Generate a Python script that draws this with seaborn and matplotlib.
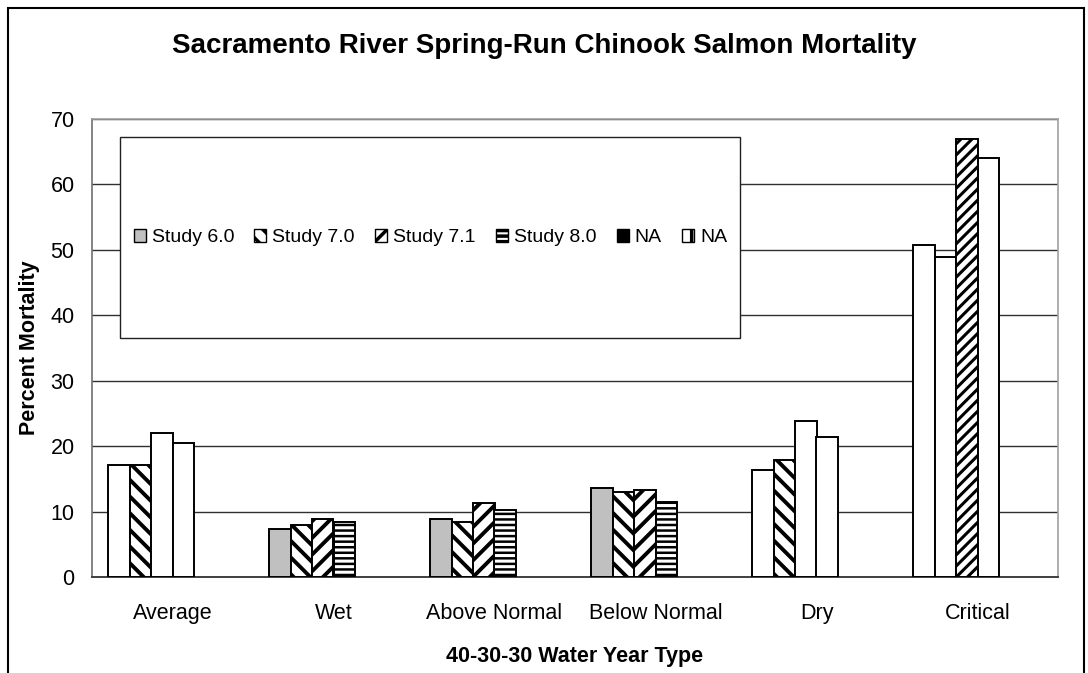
import numpy as np
import pandas as pd
import matplotlib
matplotlib.use("Agg")
import matplotlib.pyplot as plt
from matplotlib.patches import Rectangle, Patch
import seaborn as sns

# Mortality (%) by 40-30-30 water year type for each study
water_years = ["Average", "Wet", "Above Normal", "Below Normal", "Dry", "Critical"]
series = ["Study 6.0", "Study 7.0", "Study 7.1", "Study 8.0", "NA", "NA "]
study_6_0 = [17.1, 7.4, 8.9, 13.55, 16.35, 50.7]
study_7_0 = [17.1, 7.9, 8.4, 13.0, 17.9, 48.95]
study_7_1 = [22.05, 8.9, 11.3, 13.3, 23.85, 66.9]
study_8_0 = [20.5, 8.4, 10.2, 11.5, 21.45, 64.1]
na_a = [np.nan] * 6
na_b = [np.nan] * 6
y_ticks = [0, 10, 20, 30, 40, 50, 60, 70]

values = [study_6_0, study_7_0, study_7_1, study_8_0, na_a, na_b]
df = pd.DataFrame(
    [(wy, s, v[i]) for s, v in zip(series, values) for i, wy in enumerate(water_years)],
    columns=["Water Year", "Study", "Mortality"],
).dropna()

# fill / hatch / hatch width for each series, plus per-group exceptions
fills = ["#c0c0c0", "white", "white", "white", "black", "white"]
hatches = [None, "\\\\", "//", "---", None, "|"]
hatch_widths = [1.0, 2.8, 2.8, 1.8, 1.0, 2.0]
exceptions = {
    ("Average", 0): ("white", None, 1.0), ("Average", 1): ("white", "\\\\", 2.8),
    ("Average", 2): ("white", None, 1.0), ("Average", 3): ("white", None, 1.0),
    ("Dry", 0): ("white", None, 1.0), ("Dry", 1): ("white", "\\\\", 2.8),
    ("Dry", 2): ("white", None, 1.0), ("Dry", 3): ("white", None, 1.0),
    ("Critical", 0): ("white", None, 1.0), ("Critical", 1): ("white", None, 1.0),
    ("Critical", 2): ("white", "///", 2.2), ("Critical", 3): ("white", None, 1.0),
}

sns.set_style("white")
plt.rcParams["font.family"] = ["Liberation Sans", "DejaVu Sans"]
plt.rcParams["text.color"] = "black"
plt.rcParams["axes.labelcolor"] = "black"
plt.rcParams["xtick.color"] = "black"
plt.rcParams["ytick.color"] = "black"
plt.rcParams["hatch.linewidth"] = 2.5
plt.rcParams["hatch.color"] = "black"


def set_hatch_width(patch, w):
    if hasattr(patch, "set_hatch_linewidth"):
        patch.set_hatch_linewidth(w)


fig = plt.figure(figsize=(10.88, 6.73), dpi=100)
ax = fig.add_axes([92 / 1088, 96 / 673, 966 / 1088, 458 / 673])

sns.barplot(
    data=df, x="Water Year", y="Mortality", hue="Study",
    order=water_years, hue_order=series,
    palette={s: "white" for s in series}, saturation=1,
    edgecolor="black", linewidth=1.4, errorbar=None, legend=False,
    width=0.8, dodge=True, ax=ax, zorder=3,
)

n = len(series)
bw = 0.8 / n
for p in ax.patches:
    cx = p.get_x() + p.get_width() / 2
    gi = int(round(cx))
    si = int(round((cx - gi + 0.4) / bw - 0.5))
    fc, h, hw = exceptions.get((water_years[gi], si), (fills[si], hatches[si], hatch_widths[si]))
    p.set_facecolor(fc)
    p.set_hatch(h)
    set_hatch_width(p, hw)
    p.set_edgecolor("black")
    p.set_zorder(3)

ax.set_ylim(0, 70)
ax.set_xlim(-0.5, len(water_years) - 0.5)
ax.set_yticks(y_ticks)
ax.yaxis.grid(True, color="#303030", linewidth=1.0, zorder=0)
ax.set_axisbelow(True)
ax.set_xticks(range(len(water_years)))
ax.set_xticklabels(water_years)
ax.set_xticks(np.arange(-0.5, len(water_years)), minor=True)
ax.tick_params(axis="x", which="major", length=0, pad=18.5, labelsize=15.5, labelcolor="black")
ax.tick_params(axis="x", which="minor", length=5, width=1, color="#606060", direction="out")
ax.tick_params(axis="y", which="major", length=4.5, width=1, color="#606060", direction="out",
               labelsize=15.5, pad=8, labelcolor="black")

for side in ["top", "right"]:
    ax.spines[side].set_visible(True)
    ax.spines[side].set_color("#a0a0a0")
    ax.spines[side].set_linewidth(1.2)
ax.spines["left"].set_color("#707070")
ax.spines["left"].set_linewidth(1.2)
ax.spines["bottom"].set_color("#404040")
ax.spines["bottom"].set_linewidth(1.4)

ax.set_xlabel("40-30-30 Water Year Type", fontsize=15.5, fontweight="bold", labelpad=16)
ax.set_ylabel("Percent Mortality", fontsize=15.5, fontweight="bold", labelpad=7.5)
fig.text(0.5, 1 - 46 / 673, "Sacramento River Spring-Run Chinook Salmon Mortality",
         ha="center", va="center", fontsize=20, fontweight="bold")

# legend box
x0, x1 = (120 - 92) / 966, (740 - 92) / 966
y0, y1 = (577 - 338) / 458, (577 - 137) / 458
ax.add_patch(Rectangle((x0, y0), x1 - x0, y1 - y0, transform=ax.transAxes,
                       facecolor="white", edgecolor="#202020", linewidth=1.0, zorder=5))
handles = []
for i in range(n):
    hp = Patch(facecolor=fills[i], edgecolor="black", hatch=hatches[i], linewidth=1.0)
    set_hatch_width(hp, 1.5)
    handles.append(hp)
leg = ax.legend(handles, [s.strip() for s in series], ncol=n, frameon=False,
                loc="center left", bbox_to_anchor=(x0 - 0.004, (y0 + y1) / 2),
                fontsize=14, handlelength=0.62, handleheight=0.62,
                handletextpad=0.3, columnspacing=1.05)
leg.set_zorder(6)

# outer chart border
fig.patches.append(Rectangle((8 / 1088, -0.05), (1084 - 8) / 1088, 1.05 - 8 / 673,
                             transform=fig.transFigure, fill=False,
                             edgecolor="black", linewidth=1.5))

fig.savefig("out.png", dpi=100)
